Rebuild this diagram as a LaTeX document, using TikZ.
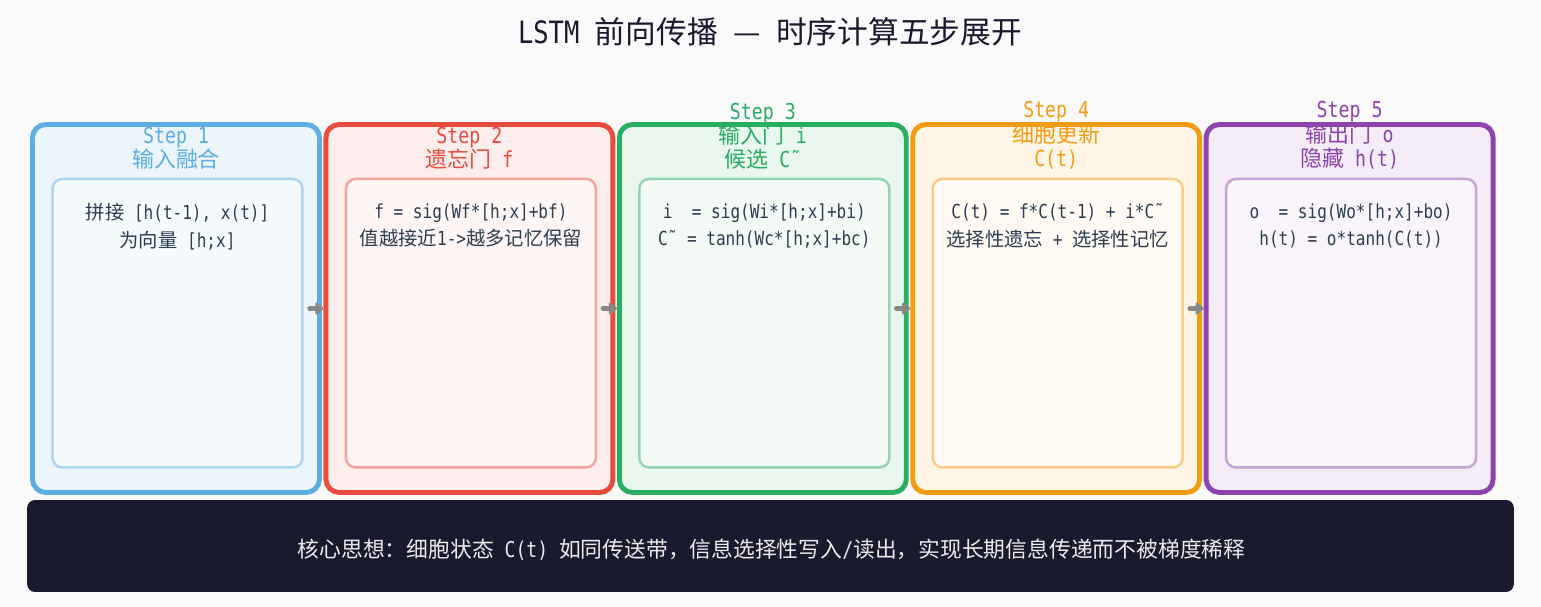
\documentclass[tikz,border=0pt]{standalone}
\usepackage{fontspec}
\setmainfont[FakeStretch=0.83]{DejaVu Sans Mono}
\newfontfamily\cjk{Noto Sans CJK SC}
\newcommand{\zh}[1]{{\cjk #1}}
\usepackage{xcolor}
\usetikzlibrary{arrows.meta,positioning}
\definecolor{bgcol}{HTML}{FAFAFA}
\definecolor{ink}{HTML}{2C3E50}
\definecolor{navy}{HTML}{1A1A2E}
\definecolor{arrowgray}{HTML}{888888}
\definecolor{sblue}{HTML}{5DADE2}
\definecolor{sred}{HTML}{E74C3C}
\definecolor{sgreen}{HTML}{27AE60}
\definecolor{sorange}{HTML}{F39C12}
\definecolor{spurple}{HTML}{8E44AD}
\definecolor{fblue}{HTML}{EBF5FB}
\definecolor{fred}{HTML}{FDEDEC}
\definecolor{fgreen}{HTML}{E9F7EF}
\definecolor{forange}{HTML}{FEF5E7}
\definecolor{fpurple}{HTML}{F4ECF7}
\tikzset{
  stepbox/.style  ={draw=s#1,fill=f#1,line width=2.8pt,rounded corners=7.5pt,
                    minimum width=5.74cm,minimum height=7.36cm,inner sep=0pt},
  innerbox/.style ={draw=s#1!50,fill=f#1!50!white,line width=1.4pt,rounded corners=5.5pt,
                    minimum width=5cm,minimum height=5.77cm,inner sep=0pt},
  steptitle/.style={text=s#1,anchor=south,align=center,inner sep=0pt,
                    font=\fontsize{12.5}{13.9}\selectfont},
  stepbody/.style ={text=ink,anchor=north,align=center,inner sep=0pt,
                    font=\fontsize{11}{15.9}\selectfont},
  flow/.style     ={-{Triangle[length=5pt,width=8pt,round]},line width=2.7pt,
                    line cap=round,arrowgray},
  footer/.style   ={fill=navy,rounded corners=4.5pt,minimum width=29.74cm,
                    minimum height=1.84cm},
  footnote/.style ={text=white!92!black,inner sep=0pt,
                    font=\fontsize{12.4}{14}\selectfont},
}
\begin{document}
\begin{tikzpicture}[x=0.02cm,y=-0.02cm]
  \fill[bgcol] (0,0) rectangle (1541,607);
  \useasboundingbox (0,0) rectangle (1541,607);
  % title
  \node[font=\fontsize{17.5}{20}\selectfont,text=navy] (title) at (770,32)
    {LSTM \zh{前向传播} \zh{—} \zh{时序计算五步展开}};
  % step frames
  \node[stepbox=blue]   (b1) at (176,308.5) {};
  \node[stepbox=red]    (b2) at (469.4,308.5) {};
  \node[stepbox=green]  (b3) at (762.8,308.5) {};
  \node[stepbox=orange] (b4) at (1056.2,308.5) {};
  \node[stepbox=purple] (b5) at (1349.6,308.5) {};
  % inner panels
  \node[innerbox=blue]   (p1) at (177.5,323.2) {};
  \node[innerbox=red]    (p2) at (470.9,323.2) {};
  \node[innerbox=green]  (p3) at (764.3,323.2) {};
  \node[innerbox=orange] (p4) at (1057.7,323.2) {};
  \node[innerbox=purple] (p5) at (1351.1,323.2) {};
  % step headings
  \node[steptitle=blue]   (t1) at (176,170) {Step 1\\\zh{输入融合}};
  \node[steptitle=red]    (t2) at (469.4,170) {Step 2\\\zh{遗忘门} f};
  \node[steptitle=green]  (t3) at (762.8,170) {Step 3\\\zh{输入门} i\\\zh{候选} C˜};
  \node[steptitle=orange] (t4) at (1056.2,170) {Step 4\\\zh{细胞更新}\\C(t)};
  \node[steptitle=purple] (t5) at (1349.6,170) {Step 5\\\zh{输出门} o\\\zh{隐藏} h(t)};
  % equations
  \node[stepbody] (e1) at (177.5,203) {\zh{拼接} [h(t-1), x(t)]\\\zh{为向量} [h;x]};
  \node[stepbody] (e2) at (470.9,203) {f = sig(Wf*[h;x]+bf)\\\zh{值越接近}1->\zh{越多记忆保留}};
  \node[stepbody] (e3) at (764.3,203) {i\ \ = sig(Wi*[h;x]+bi)\\C˜ = tanh(Wc*[h;x]+bc)};
  \node[stepbody] (e4) at (1057.7,203) {C(t) = f*C(t-1) + i*C˜\\\zh{选择性遗忘} + \zh{选择性记忆}};
  \node[stepbody] (e5) at (1351.1,203) {o\ \ = sig(Wo*[h;x]+bo)\\h(t) = o*tanh(C(t))};
  % hand-over arrows
  \draw[flow] ([xshift=-7pt]b1.east) -- (b2.west);
  \draw[flow] ([xshift=-7pt]b2.east) -- (b3.west);
  \draw[flow] ([xshift=-7pt]b3.east) -- (b4.west);
  \draw[flow] ([xshift=-7pt]b4.east) -- (b5.west);
  % key idea
  \node[footer] (core) at (770.5,546) {};
  \node[footnote] (idea) at ([xshift=0.6pt,yshift=-2pt]core.center)
    {\zh{核心思想：细胞状态} C(t) \zh{如同传送带，信息选择性写入}/\zh{读出，实现长期信息传递而不被梯度稀释}};
\end{tikzpicture}
\end{document}
